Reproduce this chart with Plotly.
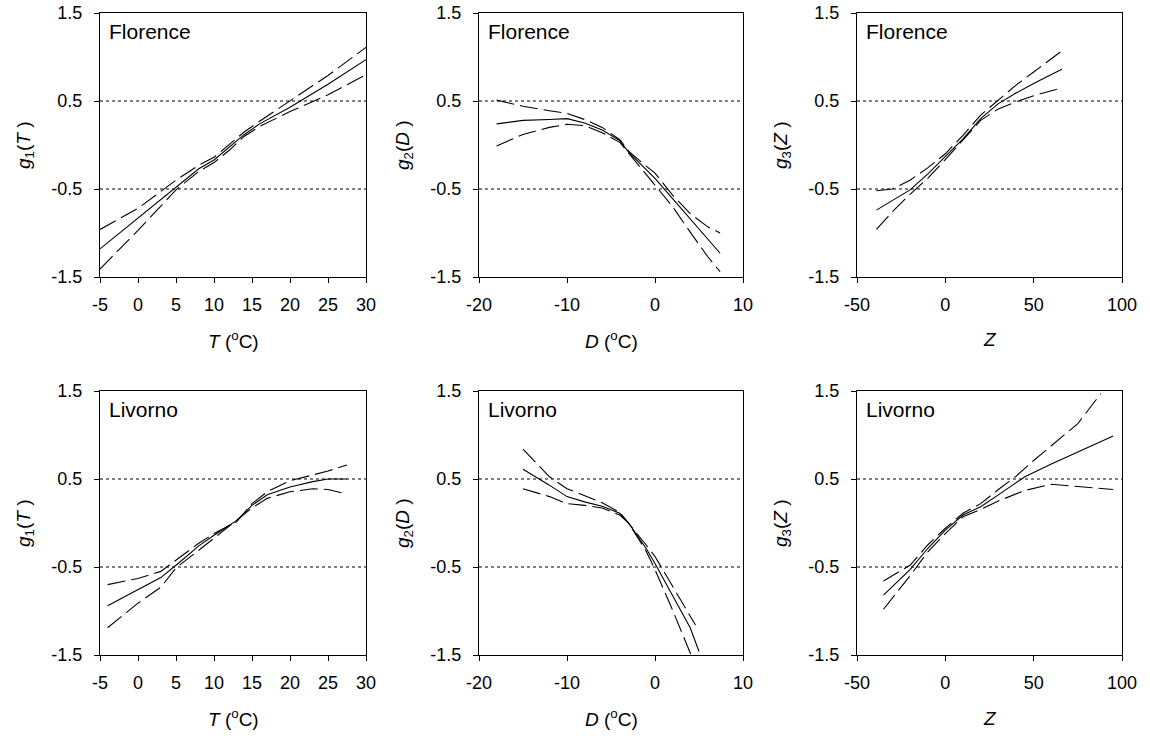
import plotly.graph_objects as go

# ---------------- data ----------------
# Florence g1(T)
fl_T_x = [-5, 0, 5, 8, 10, 12, 14, 16, 20, 25, 30]
fl_T_fit = [-1.18, -0.83, -0.47, -0.27, -0.17, -0.03, 0.12, 0.24, 0.43, 0.69, 0.97]
fl_T_up = [-0.96, -0.72, -0.40, -0.23, -0.14, 0.0, 0.15, 0.27, 0.50, 0.79, 1.11]
fl_T_lo = [-1.41, -0.97, -0.51, -0.30, -0.20, -0.06, 0.10, 0.21, 0.38, 0.57, 0.80]

# Florence g2(D)
fl_D_x = [-18, -15, -12, -10, -8, -6, -4, -3, -1, 0, 2, 4, 6, 7.4]
fl_D_fit = [0.24, 0.28, 0.29, 0.30, 0.25, 0.17, 0.05, -0.08, -0.28, -0.38, -0.61, -0.84, -1.07, -1.23]
fl_D_up = [0.51, 0.44, 0.39, 0.36, 0.29, 0.20, 0.06, -0.07, -0.24, -0.32, -0.57, -0.78, -0.93, -1.00]
fl_D_lo = [-0.01, 0.12, 0.20, 0.235, 0.22, 0.14, 0.03, -0.09, -0.33, -0.45, -0.70, -0.99, -1.27, -1.44]

# Florence g3(Z)
fl_Z_x = [-39, -30, -20, -10, 0, 10, 20, 30, 40, 50, 60, 66]
fl_Z_fit = [-0.74, -0.63, -0.51, -0.33, -0.13, 0.07, 0.30, 0.47, 0.59, 0.70, 0.80, 0.86]
fl_Z_up = [-0.52, -0.50, -0.40, -0.26, -0.10, 0.11, 0.34, 0.51, 0.68, 0.83, 0.98, 1.07]
fl_Z_lo = [-0.96, -0.76, -0.56, -0.38, -0.165, 0.055, 0.28, 0.41, 0.49, 0.56, 0.62, 0.65]

# Livorno g1(T)
li_T_x = [-4, 0, 3, 5, 8, 10, 13, 15, 17, 20, 23, 25, 27.5]
li_T_fit = [-0.94, -0.76, -0.62, -0.48, -0.26, -0.14, 0.03, 0.20, 0.32, 0.41, 0.47, 0.50, 0.50]
li_T_up = [-0.70, -0.63, -0.55, -0.42, -0.23, -0.12, 0.015, 0.22, 0.355, 0.48, 0.55, 0.59, 0.66]
li_T_lo = [-1.19, -0.91, -0.73, -0.51, -0.31, -0.17, 0.035, 0.17, 0.28, 0.355, 0.39, 0.38, 0.33]

# Livorno g2(D)
li_D_x = [-15, -12, -10, -8, -6, -4, -3, -1, 0, 2, 4, 5]
li_D_fit = [0.61, 0.43, 0.30, 0.24, 0.19, 0.11, 0.0, -0.29, -0.46, -0.83, -1.19, -1.46]
li_D_up_x = [-15, -12, -10, -8, -6, -4, -3, -1, 0, 2, 4.6]
li_D_up = [0.84, 0.525, 0.39, 0.31, 0.23, 0.12, 0.0, -0.25, -0.38, -0.72, -1.16]
li_D_lo_x = [-15, -12, -10, -8, -6, -4, -3, -1, 0, 2, 4.1]
li_D_lo = [0.39, 0.30, 0.22, 0.20, 0.17, 0.09, 0.0, -0.32, -0.53, -0.99, -1.50]

# Livorno g3(Z)
li_Z_x = [-35, -20, -10, 0, 10, 20, 30, 45, 60, 80, 95]
li_Z_fit = [-0.82, -0.53, -0.29, -0.08, 0.09, 0.185, 0.32, 0.525, 0.67, 0.85, 0.99]
li_Z_up_x = [-35, -20, -10, 0, 10, 20, 30, 40, 50, 60, 75, 88]
li_Z_up = [-0.66, -0.48, -0.25, -0.06, 0.11, 0.22, 0.38, 0.53, 0.71, 0.88, 1.13, 1.47]
li_Z_lo = [-0.98, -0.60, -0.33, -0.12, 0.07, 0.155, 0.25, 0.37, 0.44, 0.41, 0.38]

panel_labels = ["Florence", "Florence", "Florence", "Livorno", "Livorno", "Livorno"]
x_titles = ["<i>T</i> (<sup>o</sup>C)", "<i>D</i> (<sup>o</sup>C)", "<i>Z</i>"] * 2
y_titles = ["<i>g</i><sub>1</sub>(<i>T</i> )", "<i>g</i><sub>2</sub>(<i>D</i> )", "<i>g</i><sub>3</sub>(<i>Z</i> )"] * 2
x_ranges = [[-5, 30], [-20, 10], [-50, 100]] * 2
x_ticks = [[-5, 0, 5, 10, 15, 20, 25, 30], [-20, -10, 0, 10], [-50, 0, 50, 100]] * 2
y_ticks = [-1.5, -0.5, 0.5, 1.5]
y_ticktext = ["-1.5", "-0.5", "0.5", "1.5"]
x_ticktext = [[str(v) for v in t] for t in x_ticks]

panels = [
    (fl_T_x, fl_T_fit, fl_T_x, fl_T_up, fl_T_x, fl_T_lo),
    (fl_D_x, fl_D_fit, fl_D_x, fl_D_up, fl_D_x, fl_D_lo),
    (fl_Z_x, fl_Z_fit, fl_Z_x, fl_Z_up, fl_Z_x, fl_Z_lo),
    (li_T_x, li_T_fit, li_T_x, li_T_up, li_T_x, li_T_lo),
    (li_D_x, li_D_fit, li_D_up_x, li_D_up, li_D_lo_x, li_D_lo),
    (li_Z_x, li_Z_fit, li_Z_up_x, li_Z_up, li_Z_x, li_Z_lo),
]

# ---------------- layout ----------------
W, H = 1150, 736
x_px = [(100, 366), (479, 743), (857, 1122)]
y_px = [(13, 277), (391, 655)]
x_doms = [[a / W, b / W] for a, b in x_px]
y_doms = [[1 - b / H, 1 - a / H] for a, b in y_px]

FONT = "Liberation Sans, Arial, sans-serif"
TICK_SIZE = 18
TITLE_SIZE = 19
LABEL_SIZE = 21

fig = go.Figure()
layout = dict(
    width=W, height=H,
    margin=dict(l=0, r=0, t=0, b=0),
    paper_bgcolor="white", plot_bgcolor="white",
    showlegend=False,
    font=dict(family=FONT, size=TICK_SIZE, color="black"),
    shapes=[], annotations=[],
)

dash = "18px,6px"
for i, (xf, yf, xu, yu, xl, yl) in enumerate(panels):
    n = i + 1
    xa = "x" if n == 1 else f"x{n}"
    ya = "y" if n == 1 else f"y{n}"
    row, col = divmod(i, 3)
    for xs, ys, d in [(xf, yf, "solid"), (xu, yu, dash), (xl, yl, dash)]:
        fig.add_trace(go.Scatter(x=xs, y=ys, mode="lines", xaxis=xa, yaxis=ya,
                                 line=dict(color="black", width=1.1, dash=d),
                                 hoverinfo="skip"))
    axis_common = dict(showline=True, linecolor="black", linewidth=1, mirror=True,
                       ticks="outside", ticklen=5, tickcolor="black", tickwidth=1,
                       showgrid=False, zeroline=False, automargin=False,
                       tickfont=dict(family=FONT, size=TICK_SIZE, color="black"))
    layout[f"xaxis{'' if n == 1 else n}"] = dict(
        axis_common, domain=x_doms[col], anchor=ya, range=x_ranges[i],
        tickvals=x_ticks[i], ticktext=x_ticktext[i], ticklabelstandoff=6)
    layout[f"yaxis{'' if n == 1 else n}"] = dict(
        axis_common, domain=y_doms[row], anchor=xa, range=[-1.5, 1.5],
        tickvals=y_ticks, ticktext=y_ticktext, ticklabelstandoff=8)
    for yv in (0.5, -0.5):
        layout["shapes"].append(dict(type="line", xref=f"{xa} domain", yref=ya,
                                     x0=0, x1=1, y0=yv, y1=yv,
                                     line=dict(color="black", width=1, dash="dot")))
    # panel label
    layout["annotations"].append(dict(text=panel_labels[i], xref=f"{xa} domain",
                                      yref=f"{ya} domain", x=0.025, y=0.982,
                                      xanchor="left", yanchor="top", showarrow=False,
                                      font=dict(family=FONT, size=LABEL_SIZE, color="black")))
    # axis titles
    x0, x1 = x_px[col]
    y0, y1 = y_px[row]
    layout["annotations"].append(dict(text=x_titles[i], xref="paper", yref="paper",
                                      x=(x0 + x1) / 2 / W, y=1 - (y1 + 63) / H,
                                      xanchor="center", yanchor="middle", showarrow=False,
                                      font=dict(family=FONT, size=TITLE_SIZE, color="black")))
    layout["annotations"].append(dict(text=y_titles[i], xref="paper", yref="paper",
                                      x=(x0 - 75) / W, y=1 - (y0 + y1) / 2 / H,
                                      xanchor="center", yanchor="middle", textangle=-90,
                                      showarrow=False,
                                      font=dict(family=FONT, size=TITLE_SIZE, color="black")))

fig.update_layout(**layout)
fig.write_html("out.html", config={"displayModeBar": False, "staticPlot": True},
               post_script="document.body.style.margin='0';document.body.style.overflow='hidden';")
